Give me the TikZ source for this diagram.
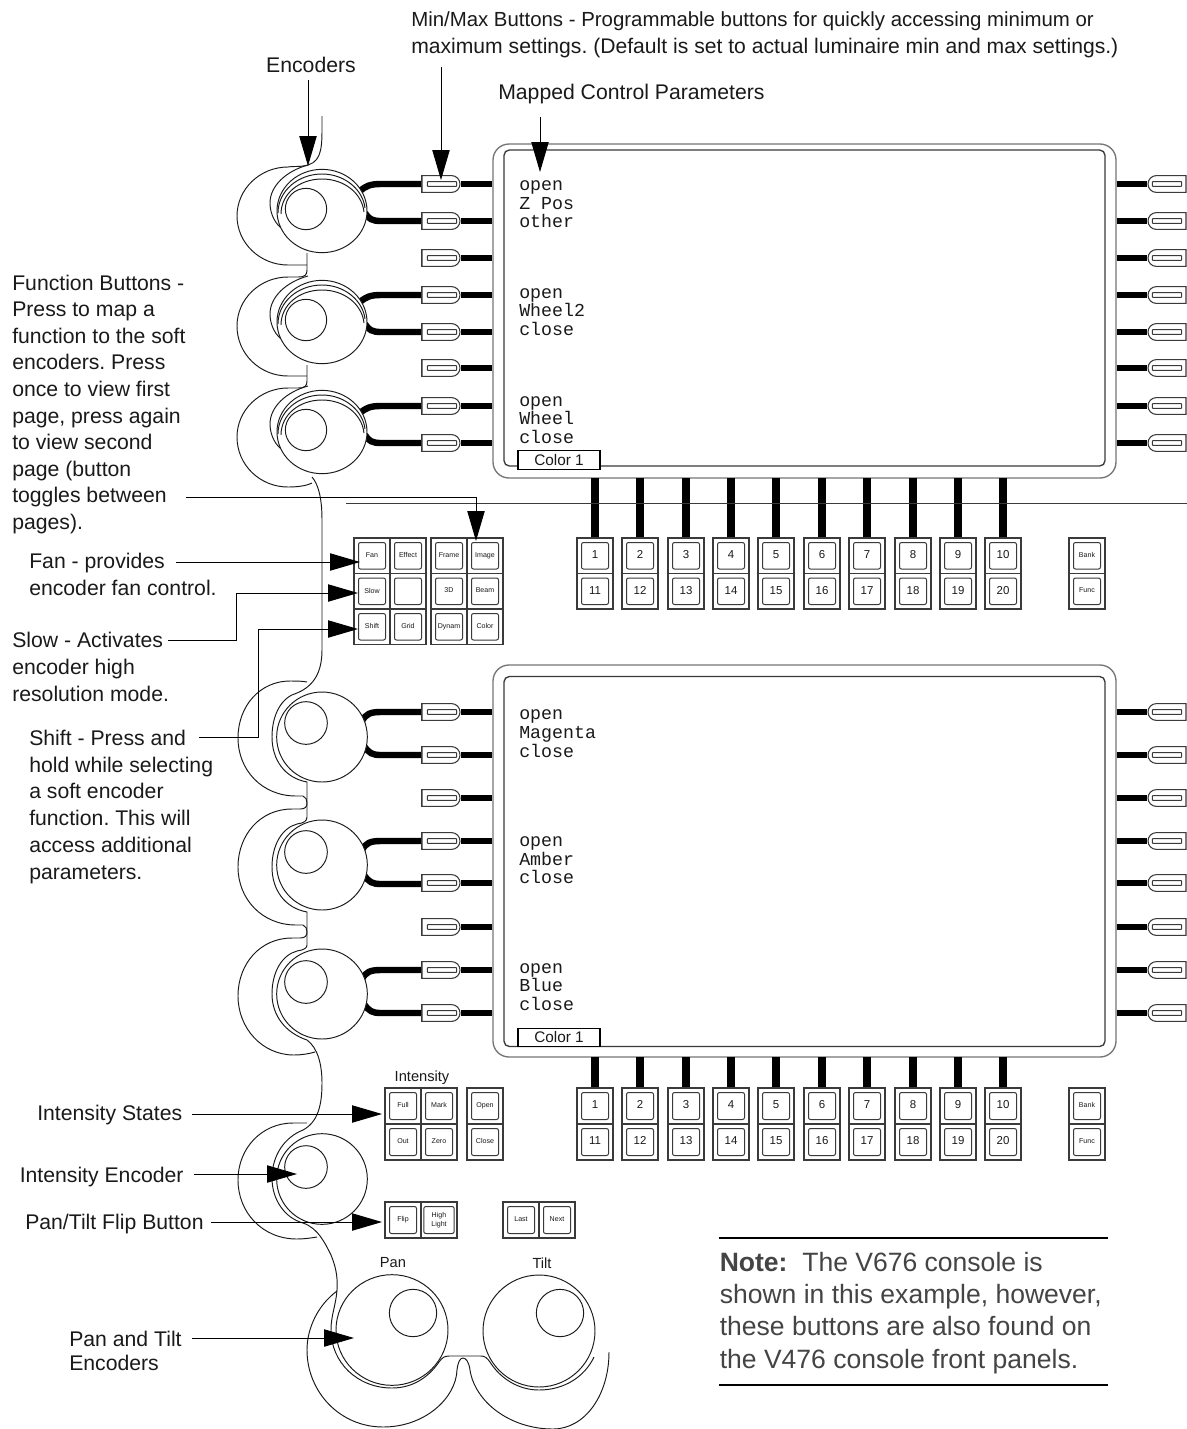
\documentclass[tikz,border=0pt]{standalone}
\usepackage{fontspec}
\setmainfont{Liberation Sans}
\setmonofont{Liberation Mono}
\usetikzlibrary{arrows.meta,shapes.misc,shapes.geometric,calc}
\AtBeginDocument{\frenchspacing}
\definecolor{ink}{HTML}{1A1A1A}
\definecolor{edge}{HTML}{3A3A3A}
\definecolor{notegray}{HTML}{444444}
\newcommand{\fs}[1]{\fontsize{#1}{#1}\selectfont}
\newcommand{\cellb}[6]{%
  \node[cellout,minimum width=#4*0.75pt,minimum height=#5*0.75pt] (#1) at ({#2+#4/2},{#3+#5/2}) {};
  \node[cellin,minimum width=(#4-9)*0.75pt,minimum height=(#5-9)*0.75pt] (#1-t) at (#1) {#6\vphantom{Xy}};
}
\newcommand{\lbtn}[2]{%
  \node[softb,rounded rectangle left arc=none] (#1) at (441,#2) {};
  \node[softbar] (#1-bar) at (442,#2) {};
  \draw[softb line] (#1.north west) -- (#1.south west);
}
\newcommand{\rbtn}[2]{%
  \node[softb,rounded rectangle right arc=none] (#1) at (1167,#2) {};
  \node[softbar] (#1-bar) at (1167,#2) {};
}
\tikzset{
  thin line/.style={line width=0.72pt,draw=ink},
  cellout/.style={draw=edge,line width=1.3pt,fill=white,inner sep=0pt},
  cellin/.style={draw=edge,line width=0.75pt,rounded corners=1.5pt,fill=white,inner sep=0pt,text=ink,font=\fs{5.3}},
  softb/.style={rounded rectangle,draw=edge,line width=0.8pt,fill=white,minimum width=28.5pt,minimum height=12.6pt,inner sep=0pt},
  softb line/.style={draw=edge,line width=1.3pt},
  softbar/.style={draw=edge,line width=0.7pt,fill=white,minimum width=22pt,minimum height=3.6pt,inner sep=0pt,rounded corners=0.5pt},
  wire/.style={line width=4.8pt,draw=black},
  bar/.style={line width=6pt,draw=black},
  screenout/.style={draw=edge!70,line width=1pt,rounded corners=12pt,fill=white,inner sep=0pt},
  screenin/.style={draw=edge,line width=1pt,rounded corners=4pt,inner sep=0pt},
  knob/.style={ellipse,draw=ink,line width=0.72pt,fill=white,inner sep=0pt},
  hub/.style={circle,draw=ink,line width=0.72pt,fill=white,inner sep=0pt},
  mono/.style={font=\ttfamily\fs{13.7},anchor=base west,inner sep=0pt,text=ink},
  tab/.style={draw=black,line width=0.8pt,fill=white,minimum width=61.5pt,minimum height=14pt,inner sep=0pt,font=\fs{11.5},text=ink},
  lab/.style={font=\fontsize{15.9}{#1}\selectfont,align=left,inner sep=0pt,text=ink},
  lab/.default=19.9pt,
  capt/.style={font=\fs{11},inner sep=0pt,text=ink},
  call/.style={line width=0.75pt,draw=black,-{Triangle[length=22.5pt,width=13pt]}},
  rulebar/.style={line width=2.2pt,draw=black},
}
\begin{document}
\begin{tikzpicture}[x=0.75pt,y=-0.75pt]
\useasboundingbox (0,0) rectangle (1187,1429);
\fill[white] (0,0) rectangle (1187,1429);

% ---------- outline of the top encoder group
\draw[thin line]
  (322,116) -- (322,130) .. controls (322,152) and (320,164) .. (303,166)
  .. controls (297,167) and (293,166) .. (288,167)
  .. controls (260,167) and (237,189) .. (237,216)
  .. controls (237,243) and (260,265) .. (288,265) -- (307,265);
\draw[thin line]
  (307,253) -- (307,270) .. controls (307,275) and (305,277) .. (298,277)
  -- (288,277) .. controls (260,277) and (237,299) .. (237,326)
  .. controls (237,354) and (260,376) .. (288,376) -- (307,376);
\draw[thin line]
  (307,365) -- (307,381) .. controls (307,386) and (305,388) .. (298,388)
  -- (288,388) .. controls (260,388) and (237,410) .. (237,437)
  .. controls (237,465) and (260,487) .. (288,487)
  .. controls (297,487) and (306,486) .. (312,483);
\draw[thin line]
  (312,477) .. controls (318,484) and (322,497) .. (322,520)
  -- (322,650) .. controls (322,672) and (314,686) .. (297,693)
  .. controls (282,697) and (272,714) .. (272,737)
  .. controls (272,760) and (285,778) .. (307,782)
  -- (307,817) .. controls (307,821) and (304,823) .. (297,824)
  .. controls (282,828) and (272,845) .. (272,867)
  .. controls (272,890) and (285,908) .. (307,912)
  -- (307,945) .. controls (307,948) and (304,950) .. (297,951)
  .. controls (282,955) and (272,972) .. (272,994)
  .. controls (272,1016) and (286,1033) .. (307,1040)
  .. controls (318,1048) and (322,1065) .. (322,1083)
  .. controls (322,1105) and (318,1122) .. (303,1130)
  .. controls (285,1137) and (272,1155) .. (272,1178)
  .. controls (272,1200) and (285,1218) .. (303,1223)
  .. controls (318,1228) and (325,1243) .. (331,1255)
  .. controls (335,1265) and (338,1275) .. (337,1290)
  .. controls (336,1305) and (331,1315) .. (331,1330)
  .. controls (331,1362) and (357,1388) .. (392,1388)
  .. controls (415,1388) and (430,1375) .. (439,1362)
  .. controls (442,1358) and (444,1356) .. (449,1356)
  -- (481,1356) .. controls (485,1356) and (487,1358) .. (490,1362)
  .. controls (500,1378) and (518,1390) .. (539,1390)
  .. controls (565,1390) and (585,1376) .. (594,1357);

% ---------- outer crescents of the lower encoders
\draw[thin line]
  (307,682) .. controls (302,681) and (296,681) .. (290,681)
  .. controls (260,681) and (238,706) .. (238,738)
  .. controls (238,770) and (262,796) .. (296,796)
  -- (303,796) .. controls (306,797) and (307,800) .. (307,803)
  .. controls (307,807) and (305,809) .. (300,809)
  -- (292,809) .. controls (260,809) and (238,835) .. (238,867)
  .. controls (238,899) and (262,925) .. (296,925)
  -- (303,925) .. controls (306,926) and (307,929) .. (307,932)
  .. controls (307,936) and (305,938) .. (300,938)
  -- (292,938) .. controls (260,938) and (238,964) .. (238,996)
  .. controls (238,1028) and (262,1055) .. (294,1055)
  .. controls (301,1055) and (308,1054) .. (315,1052);
\draw[thin line]
  (307,1123) .. controls (302,1123) and (298,1123) .. (293,1123)
  .. controls (262,1123) and (238,1148) .. (238,1180)
  .. controls (238,1212) and (262,1239) .. (297,1239)
  .. controls (304,1239) and (311,1238) .. (317,1237);
\draw[thin line]
  (337,1291) .. controls (318,1305) and (307,1328) .. (307,1350)
  .. controls (307,1392) and (340,1427) .. (383,1427)
  .. controls (425,1427) and (456,1398) .. (457,1370)
  .. controls (458,1362) and (460,1358) .. (463,1358)
  .. controls (466,1358) and (469,1362) .. (470,1370)
  .. controls (475,1402) and (510,1429) .. (553,1429)
  .. controls (585,1429) and (609,1395) .. (609,1352);

% ---------- second arcs on the top encoders
\foreach \cy in {211,322,432}{
  \draw[thin line] ({308},{\cy-46}) .. controls (286,{\cy-40}) and (270,{\cy-25}) .. (270,{\cy-8})
     .. controls (270,{\cy}) and (273,{\cy+10}) .. (281,{\cy+17});
}

% ---------- screens
\node[screenout,minimum width=467.25pt,minimum height=250.5pt] (scrA) at (804.5,311) {};
\node[screenin,minimum width=450.75pt,minimum height=237pt] (scrAi) at (804.5,308) {};
\node[screenout,minimum width=467.25pt,minimum height=294pt] (scrB) at (804.5,861) {};
\node[screenin,minimum width=450.75pt,minimum height=277.5pt] (scrBi) at (804.5,861.5) {};

% ---------- wires from encoders to soft buttons
\foreach \y in {184,295,406}{
  \draw[wire] (360,{\y+7}) .. controls (366,{\y+2}) and (370,\y) .. (381,\y) -- (422,\y);
  \draw[wire] (365,{\y+29}) .. controls (369,{\y+35}) and (372,{\y+37}) .. (381,{\y+37}) -- (422,{\y+37});
}
\foreach \y in {712,841,970}{
  \draw[wire] (362,{\y+9}) .. controls (366,{\y+2}) and (370,\y) .. (381,\y) -- (422,\y);
  \draw[wire] (364,{\y+34}) .. controls (369,{\y+41}) and (372,{\y+43}) .. (381,{\y+43}) -- (422,{\y+43});
}

% ---------- soft buttons, top screen
\foreach \n/\y in {1/184,2/221,3/258,4/295,5/332,6/368,7/406,8/443}{
  \lbtn{al\n}{\y}
  \rbtn{ar\n}{\y}
  \draw[wire] (al\n.east) -- (al\n.east -| scrA.west);
  \draw[wire] (scrA.east |- ar\n.west) -- (ar\n.west);
}
% ---------- soft buttons, lower screen
\foreach \n/\y in {1/712,2/755,3/798,4/841,5/883,6/927,7/970,8/1013}{
  \lbtn{bl\n}{\y}
  \rbtn{br\n}{\y}
  \draw[wire] (bl\n.east) -- (bl\n.east -| scrB.west);
  \draw[wire] (scrB.east |- br\n.west) -- (br\n.west);
}

% ---------- knobs, top
\foreach \k/\cy in {1/211,2/322,3/432}{
  \node[knob,minimum width=67.5pt,minimum height=62.5pt] (ka\k) at (322,\cy) {};
  \draw[thin line] (278,{\cy+2}) .. controls (278,{\cy-20}) and (298,{\cy-37}) .. (322,{\cy-37}) .. controls (345,{\cy-37}) and (363,{\cy-21}) .. (365,{\cy-3});
  \draw[thin line] (281,{\cy+3}) .. controls (281,{\cy-17}) and (299,{\cy-32}) .. (322,{\cy-32}) .. controls (344,{\cy-32}) and (362,{\cy-18}) .. (364,{\cy+1});
  \node[hub,minimum size=31pt] (ha\k) at (306,{\cy-2}) {};
}
% ---------- knobs, lower
\foreach \k/\cy/\hy in {1/737/723,2/865/852,3/994/982}{
  \node[knob,minimum width=68pt,minimum height=67.5pt] (kb\k) at (322,\cy) {};
  \node[hub,minimum size=32pt] (hb\k) at (306,\hy) {};
}
% ---------- intensity, pan, tilt knobs
\node[knob,minimum width=68pt,minimum height=68pt] (kI) at (322,1179) {};
\node[hub,minimum size=32pt] (hI) at (306,1167) {};
\node[knob,minimum width=84pt,minimum height=83pt] (kP) at (392,1330) {};
\node[hub,minimum size=35.5pt] (hP) at (413,1313) {};
\node[knob,minimum width=84pt,minimum height=84pt] (kT) at (539,1331) {};
\node[hub,minimum size=35.5pt] (hT) at (560,1313) {};

% ---------- bars to the number buttons
\foreach \x in {577,622,668,713,758,804,849,895,940,985}{
  \coordinate (ta\x) at ({\x+18},478);
  \coordinate (tb\x) at ({\x+18},1057);
  \draw[bar] (ta\x) -- ++(0,60);
  \draw[bar] (tb\x) -- ++(0,31);
}
% separator line
\coordinate (sepL) at (346,503);
\coordinate (sepR) at (1187,503);
\draw[line width=0.75pt,draw=edge] (sepL) -- (sepR);

% ---------- screen text
\foreach \t/\y in {open/190,Z Pos/209,other/227.5,open/298,Wheel2/316,close/335,open/406,Wheel/424,close/443,
                   open/719,Magenta/738,close/757,open/846,Amber/865,close/883,open/973,Blue/991,close/1010}{
  \node[mono] at (519,\y) {\t};
}
\node[tab] (tabA) at (559,460) {Color 1};
\node[tab] (tabB) at (559,1037.5) {Color 1};

% ---------- number buttons
\foreach \x in {577,622,668,713,758,804,849,895,940,985}{
  \pgfmathtruncatemacro{\num}{round((\x-577)/45.3)+1}
  \pgfmathtruncatemacro{\numb}{\num+10}
  \cellb{ua\x}{\x}{538}{36}{35.5}{\fs{8.6}\num}
  \cellb{da\x}{\x}{573.5}{36}{35.5}{\fs{8.6}\numb}
  \cellb{ub\x}{\x}{1088}{36}{36}{\fs{8.6}\num}
  \cellb{db\x}{\x}{1124}{36}{36}{\fs{8.6}\numb}
}
\cellb{bankA}{1069}{538}{36}{35.5}{Bank}
\cellb{funcA}{1069}{573.5}{36}{35.5}{Func}
\cellb{bankB}{1069}{1088}{36}{36}{Bank}
\cellb{funcB}{1069}{1124}{36}{36}{Func}

% ---------- function grid
\cellb{fan}{354}{538}{36}{35.5}{Fan}
\cellb{effect}{390}{538}{36}{35.5}{Effect}
\cellb{slow}{354}{573.5}{36}{35.5}{Slow}
\cellb{blank}{390}{573.5}{36}{35.5}{}
\cellb{shift}{354}{609}{36}{35.5}{Shift}
\cellb{grid}{390}{609}{36}{35.5}{Grid}
\cellb{frame}{431}{538}{36}{35.5}{Frame}
\cellb{image}{467}{538}{36}{35.5}{Image}
\cellb{threeD}{431}{573.5}{36}{35.5}{3D}
\cellb{beam}{467}{573.5}{36}{35.5}{Beam}
\cellb{dynam}{431}{609}{36}{35.5}{Dynam}
\cellb{color}{467}{609}{36}{35.5}{Color}

% ---------- intensity grid
\node[capt] (intcap) at (422,1078) {Intensity};
\cellb{full}{385}{1088}{36}{36}{Full}
\cellb{mark}{421}{1088}{36}{36}{Mark}
\cellb{out}{385}{1124}{36}{36}{Out}
\cellb{zero}{421}{1124}{36}{36}{Zero}
\cellb{open}{467}{1088}{36}{36}{Open}
\cellb{close}{467}{1124}{36}{36}{Close}
\cellb{flip}{385}{1202}{36}{36}{Flip}
\cellb{high}{421}{1202}{36}{36}{\parbox{8mm}{\centering\fontsize{5.3}{6.8pt}\selectfont High\\Light}}
\cellb{last}{503}{1202}{36}{36}{Last}
\cellb{next}{539}{1202}{36}{36}{Next}
\node[capt] (pancap) at (393,1263) {Pan};
\node[capt] (tiltcap) at (542,1263) {Tilt};

% ---------- labels
\node[font=\fontsize{15.3}{20.3pt}\selectfont,align=left,inner sep=0pt,text=ink,anchor=north west] (lmin) at (411,11.2) {Min/Max Buttons - Programmable buttons for quickly accessing minimum or\\{\fontsize{15.85}{20.3pt}\selectfont maximum settings. (Default is set to actual luminaire min and max settings.)}};
\node[lab,anchor=base] (lenc) at (311,72) {Encoders};
\node[lab,anchor=base west] (lmap) at (498,99.5) {Mapped Control Parameters};
\node[lab,anchor=north west] (lfun) at (12,274.7) {Function Buttons -\\Press to map a\\function to the soft\\encoders. Press\\once to view first\\page, press again\\to view second\\page (button\\toggles between\\pages).};
\node[lab=20.2pt,anchor=north west] (lfan) at (29,553) {Fan - provides\\encoder fan control.};
\node[lab=20.2pt,anchor=north west] (lslow) at (12,631.9) {Slow - Activates\\encoder high\\resolution mode.};
\node[lab=20.1pt,anchor=north west] (lshift) at (29,729.7) {Shift - Press and\\hold while selecting\\a soft encoder\\function. This will\\access additional\\parameters.};
\node[lab,anchor=base west] (lints) at (37,1120) {Intensity States};
\node[lab,anchor=base west] (linte) at (19.5,1182) {Intensity Encoder};
\node[lab,anchor=base west] (lflip) at (25,1229) {Pan/Tilt Flip Button};
\node[lab=18pt,anchor=north west] (lpan) at (69,1330.7) {Pan and Tilt\\Encoders};

% ---------- callouts
\coordinate (tEnc) at (308,166);
\coordinate (tMin) at (441,180);
\coordinate (tMap) at (540,172);
\coordinate (fS) at (186,497);
\coordinate (fC) at (476,497);
\coordinate (tFun) at (476,541);
\coordinate (tFan) at (360,562);
\coordinate (tSlow) at (358,593);
\coordinate (tShift) at (358,629);
\coordinate (sS) at (168,640);
\coordinate (sC) at (236,640);
\coordinate (hS) at (199,737);
\coordinate (hC) at (258,737);
\coordinate (fanS) at (176,562);
\coordinate (intS) at (192,1114);
\coordinate (inteS) at (194,1174);
\coordinate (flipS) at (211,1222);
\coordinate (panS) at (192,1338);
\coordinate (tInts) at (382,1114);
\coordinate (tInte) at (297,1174);
\coordinate (tFlip) at (382,1222);
\coordinate (tPan) at (354,1338);
\coordinate (mS) at (441,67);
\coordinate (pS) at (540,117);
\coordinate (eS) at (308,80);
\draw[call] (eS) -- (tEnc);
\draw[call] (mS) -- (tMin);
\draw[call] (pS) -- (tMap);
\draw[call] (fS) -- (fC) -- (tFun);
\draw[call] (fanS) -- (tFan);
\draw[call] (sS) -- (sC) |- (tSlow);
\draw[call] (hS) -- (hC) |- (tShift);
\draw[call] (intS) -- (tInts);
\draw[call] (inteS) -- (tInte);
\draw[call] (flipS) -- (tFlip);
\draw[call] (panS) -- (tPan);

% ---------- note
\coordinate (nA) at (719,1238);
\coordinate (nB) at (1108,1238);
\coordinate (nC) at (719,1385);
\coordinate (nD) at (1108,1385);
\draw[rulebar] (nA) -- (nB);
\draw[rulebar] (nC) -- (nD);
\node[anchor=north west,inner sep=0pt,align=left,font=\fontsize{19.9}{24.25pt}\selectfont,text=notegray] (note) at (719.5,1251.6)
  {\textbf{Note:}\ \ The V676 console is\\shown in this example, however,\\these buttons are also found on\\the V476 console front panels.};
\end{tikzpicture}
\end{document}
